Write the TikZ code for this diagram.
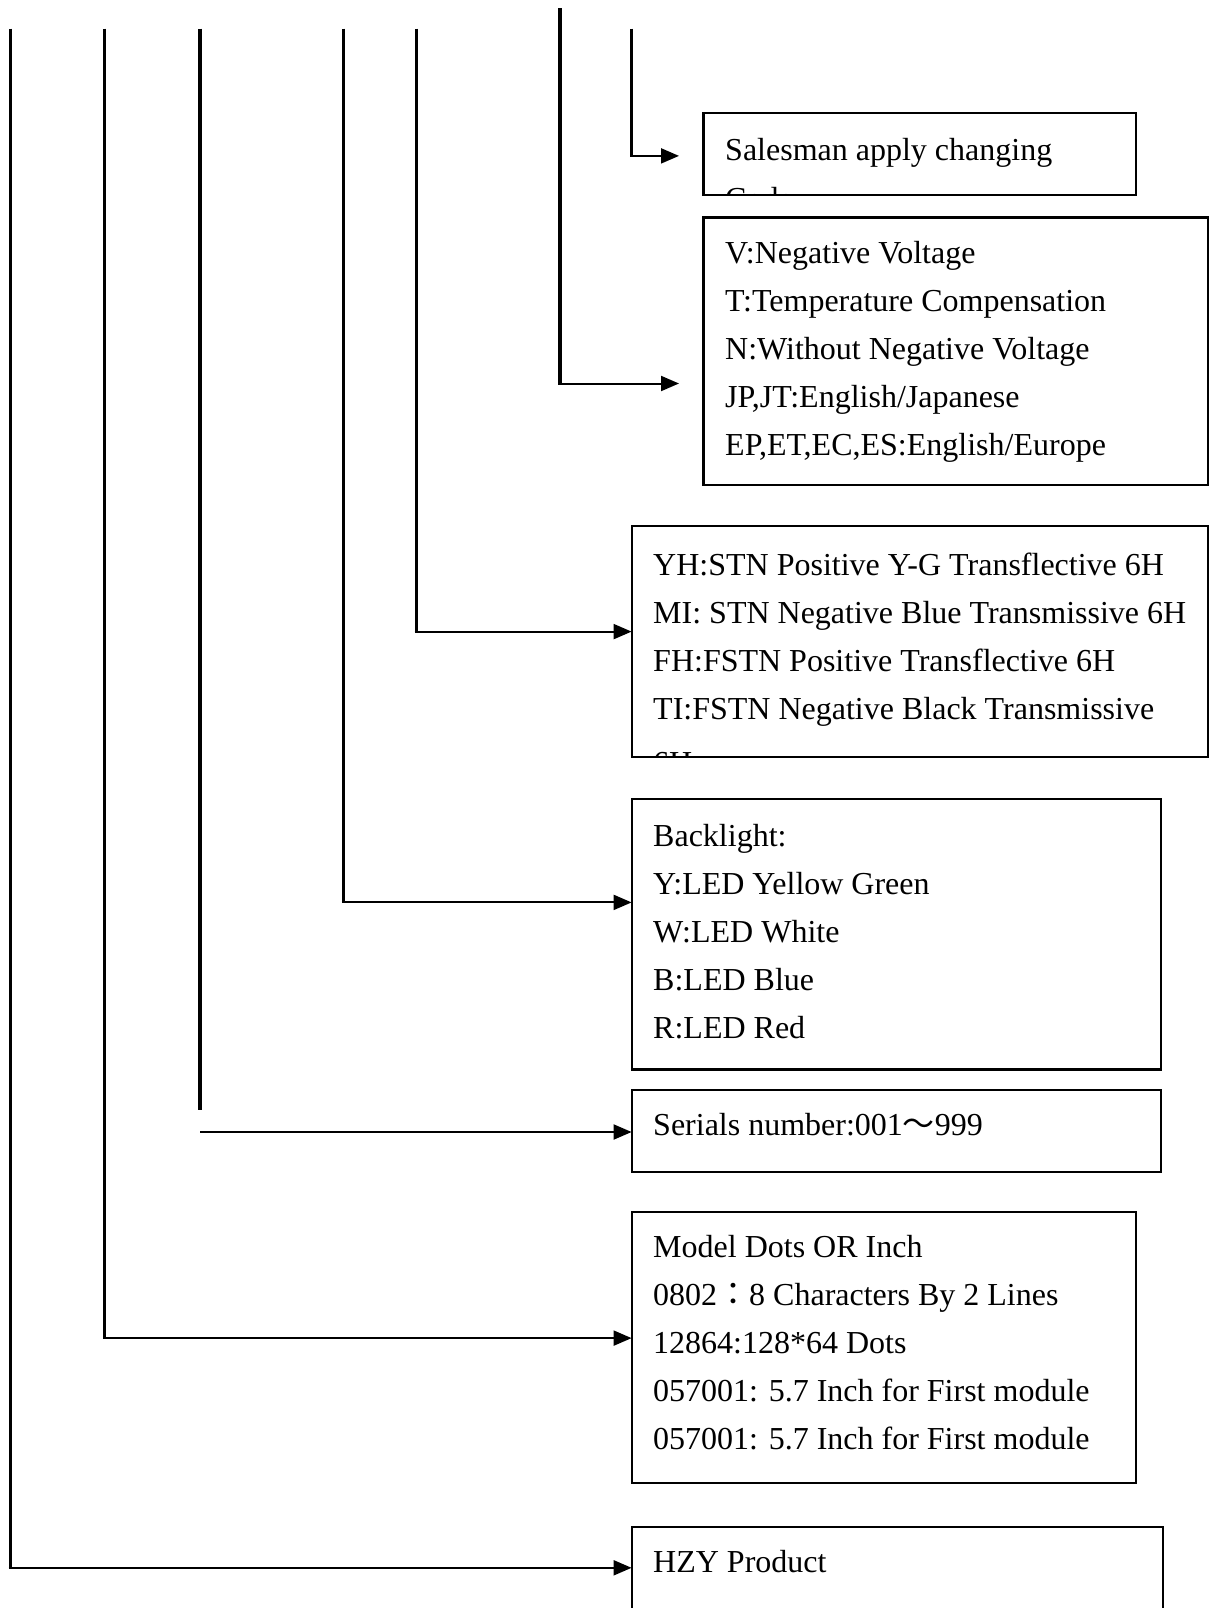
\documentclass[tikz,border=0pt]{standalone}
\usepackage{fontspec}
\setmainfont{Liberation Serif}
\newfontfamily\cjk{Noto Sans CJK TC}
\usetikzlibrary{arrows.meta}
\tikzset{
 box/.style={draw, line width=2.2pt, inner sep=0pt, outer sep=0pt, anchor=north west},
 vline/.style={line width=3.2pt},
 hline/.style={line width=2pt},
 arr/.style={hline, -{Triangle[length=18pt,width=15pt]}},
 txt/.style={anchor=base west, inner sep=0pt, font=\fontsize{32pt}{48pt}\selectfont},
}
\begin{document}
\begin{tikzpicture}[x=1pt,y=-1pt]
\path[use as bounding box] (0,0) rectangle (1210,1608);
\clip (0,0) rectangle (1210,1608);
% boxes
\node[box, minimum width=432.7pt, minimum height=82pt]    (b1) at (703.4,112.8) {};
\node[box, minimum width=504.6pt, minimum height=267.6pt] (b2) at (703.4,217.4) {};
\node[box, minimum width=576.4pt, minimum height=230.7pt] (b3) at (631.6,526) {};
\node[box, minimum width=529.2pt, minimum height=270.7pt] (b4) at (631.6,798.8) {};
\node[box, minimum width=529.2pt, minimum height=82pt]    (b5) at (631.6,1090) {};
\node[box, minimum width=504.5pt, minimum height=270.7pt] (b6) at (631.6,1212) {};
\node[box, minimum width=531.2pt, minimum height=120pt]   (b7) at (631.6,1526.8) {};
% coordinates
\coordinate (t1) at (631.6,28.7);  \coordinate (c1) at (631.6,155.9); \coordinate (e1) at (679,155.9);
\coordinate (t2) at (560,8.2);     \coordinate (c2) at (560,383.5);   \coordinate (e2) at (679,383.5);
\coordinate (t3) at (416.3,28.7);  \coordinate (c3) at (416.3,631.6);
\coordinate (t4) at (343.5,28.7);  \coordinate (c4) at (343.5,902.4);
\coordinate (t5) at (200,28.7);    \coordinate (s5) at (200,1109.5);  \coordinate (c5) at (200,1132);
\coordinate (t6) at (104.6,28.7);  \coordinate (c6) at (104.6,1338.1);
\coordinate (t7) at (10.3,28.7);   \coordinate (c7) at (10.3,1567.8);
% connectors
\draw[vline] (t1) -- (c1); \draw[arr] ([xshift=-1.6pt]c1) -- (e1);
\draw[vline] (t2) -- (c2); \draw[arr] ([xshift=-1.6pt]c2) -- (e2);
\draw[vline] (t3) -- (c3); \draw[arr] ([xshift=-1.6pt]c3) -- (b3.west |- c3);
\draw[vline] (t4) -- (c4); \draw[arr] ([xshift=-1.6pt]c4) -- (b4.west |- c4);
\draw[vline] (t5) -- (s5); \draw[arr] (c5) -- (b5.west |- c5);
\draw[vline] (t6) -- (c6); \draw[arr] ([xshift=-1.6pt]c6) -- (b6.west |- c6);
\draw[vline] (t7) -- (c7); \draw[arr] ([xshift=-1.6pt]c7) -- (b7.west |- c7);
% texts
\begin{scope}
\clip (b1.north west) rectangle (b1.south east);
\node[txt] (l1a) at (725,161) {Salesman apply changing};
\node[txt] (l1b) at (725,210) {Code};
\end{scope}
\node[txt] (l2a) at (725,263.5) {V:Negative Voltage};
\node[txt] (l2b) at (725,311.5) {T:Temperature Compensation};
\node[txt] (l2c) at (725,359.5) {N:Without Negative Voltage};
\node[txt] (l2d) at (725,407.5) {JP,JT:English/Japanese};
\node[txt] (l2e) at (725,455.5) {EP,ET,EC,ES:English/Europe};
\begin{scope}
\clip (b3.north west) rectangle (b3.south east);
\node[txt] (l3a) at (653,575) {YH:STN Positive Y-G Transflective 6H};
\node[txt] (l3b) at (653,623) {MI: STN Negative Blue Transmissive 6H};
\node[txt] (l3c) at (653,671) {FH:FSTN Positive Transflective 6H};
\node[txt] (l3d) at (653,719) {TI:FSTN Negative Black Transmissive};
\node[txt] (l3e) at (653,773) {6H};
\end{scope}
\node[txt] (l4a) at (653,846.7) {Backlight:};
\node[txt] (l4b) at (653,894.7) {Y:LED Yellow Green};
\node[txt] (l4c) at (653,942.7) {W:LED White};
\node[txt] (l4d) at (653,990.7) {B:LED Blue};
\node[txt] (l4e) at (653,1038.7) {R:LED Red};
\node[txt] (l5a) at (653,1135.9) {Serials number:001{\cjk ～}999};
\node[txt] (l6a) at (653,1257.9) {Model Dots OR Inch};
\node[txt] (l6b) at (653,1305.9) {0802{\cjk ：}8 Characters By 2 Lines};
\node[txt] (l6c) at (653,1353.9) {12864:128*64 Dots};
\node[txt] (l6d) at (653,1401.9) {057001: 5.7 Inch for First module};
\node[txt] (l6e) at (653,1449.9) {057001: 5.7 Inch for First module};
\node[txt] (l7a) at (653,1572.7) {HZY Product};
\end{tikzpicture}
\end{document}
